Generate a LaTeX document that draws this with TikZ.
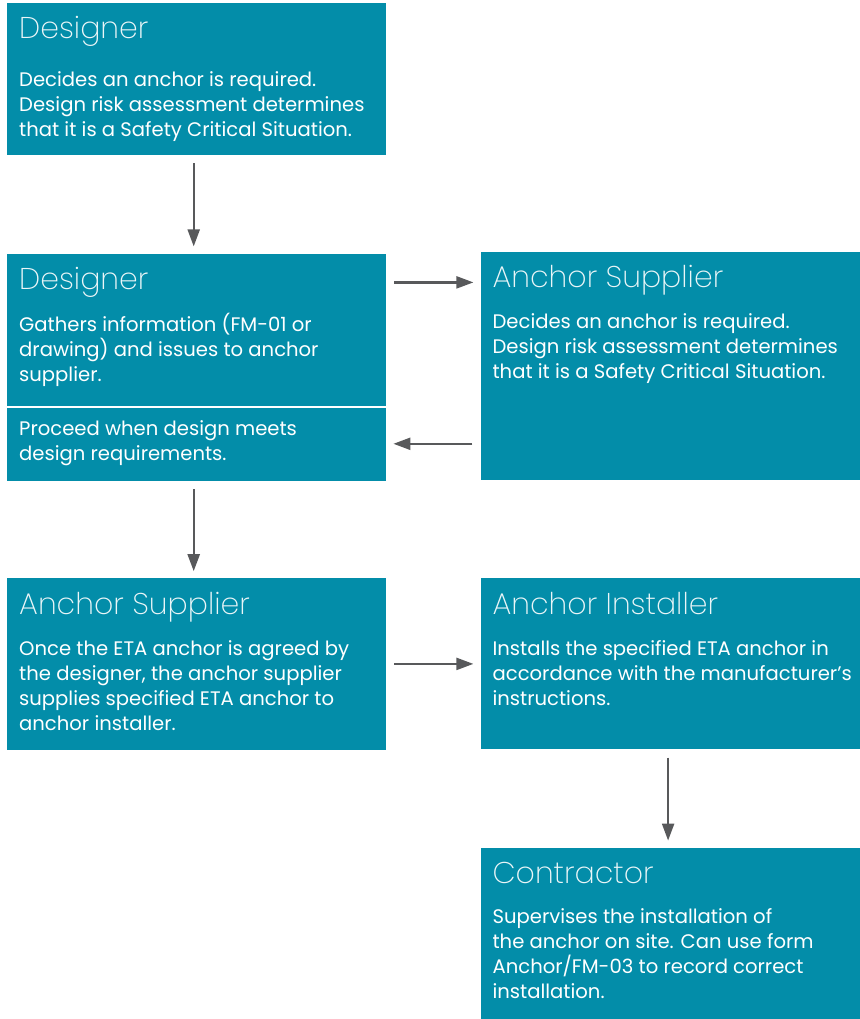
\documentclass[tikz,border=0pt]{standalone}
\usepackage{fontspec}
\setmainfont{Poppins}
\newfontfamily\titlefont{Poppins ExtraLight}
\usetikzlibrary{arrows.meta,positioning}
\definecolor{stepcol}{HTML}{038DA9}
\definecolor{arrcol}{HTML}{58595B}

\begin{document}
\begin{tikzpicture}[
  box/.style={fill=stepcol, minimum width=379pt, inner sep=0pt, anchor=north west},
  ttl/.style={anchor=base west, inner sep=0pt, text=white!92!stepcol,
              font=\titlefont\fontsize{30}{36}\selectfont},
  body/.style={anchor=north west, inner sep=0pt, text=white, align=left,
               font=\fontsize{19.6}{25}\selectfont,
               execute at begin node={\rule{0pt}{20pt}}},
  arr/.style={-{Triangle[length=17pt, width=12pt]}, line width=2.2pt, draw=arrcol,
              shorten <=8pt, shorten >=7pt}]
  \useasboundingbox (0,0) rectangle (859pt,-1019pt);
  % boxes
  \node[box, minimum height=152pt] (dsg1) at (7pt,-3pt) {};
  \node[box, minimum height=152pt, below=98pt of dsg1] (dsg2) {};
  \node[box, minimum height=73pt, below=2pt of dsg2] (prc) {};
  \node[box, minimum height=228pt, right=94pt of dsg2.north east, anchor=north west, yshift=2pt] (sup1) {};
  \node[box, minimum height=172pt, below=97pt of prc] (sup2) {};
  \node[box, minimum height=171pt, right=94pt of sup2.north east, anchor=north west] (ins) {};
  \node[box, minimum height=171pt, below=98pt of ins] (con) {};
  % titles
  \node[ttl] (dsg1-t) at ([shift={(12pt,-36pt)}]dsg1.north west) {Designer};
  \node[ttl] (dsg2-t) at ([shift={(12pt,-36pt)}]dsg2.north west) {Designer};
  \node[ttl] (sup1-t) at ([shift={(12pt,-36pt)}]sup1.north west) {Anchor Supplier};
  \node[ttl] (sup2-t) at ([shift={(12pt,-36pt)}]sup2.north west) {Anchor Supplier};
  \node[ttl] (ins-t) at ([shift={(12pt,-36pt)}]ins.north west) {Anchor Installer};
  \node[ttl] (con-t) at ([shift={(12pt,-36pt)}]con.north west) {Contractor};
  % texts
  \node[body] (dsg1-b) at ([shift={(12pt,-68pt)}]dsg1.north west)
    {Decides an anchor is required.\\Design risk assessment determines\\that it is a Safety Critical Situation.};
  \node[body] (dsg2-b) at ([shift={(12pt,-60pt)}]dsg2.north west)
    {Gathers information (FM-01 or\\drawing) and issues to anchor\\supplier.};
  \node[body] (prc-b) at ([shift={(12pt,-13pt)}]prc.north west)
    {Proceed when design meets\\design requirements.};
  \node[body] (sup1-b) at ([shift={(12pt,-62pt)}]sup1.north west)
    {Decides an anchor is required.\\Design risk assessment determines\\that it is a Safety Critical Situation.};
  \node[body] (sup2-b) at ([shift={(12pt,-62pt)}]sup2.north west)
    {Once the ETA anchor is agreed by\\the designer, the anchor supplier\\supplies specified ETA anchor to\\anchor installer.};
  \node[body] (ins-b) at ([shift={(12pt,-62pt)}]ins.north west)
    {Installs the specified ETA anchor in\\accordance with the manufacturer’s\\instructions.};
  \node[body] (con-b) at ([shift={(12pt,-61pt)}]con.north west)
    {Supervises the installation of\\the anchor on site. Can use form\\Anchor/FM-03 to record correct\\installation.};
  % arrows
  \draw[arr] ([xshift=-3pt]dsg1.south) -- ([xshift=-3pt]dsg2.north);
  \draw[arr] ([yshift=-29pt]dsg2.north east) -- ([yshift=-29pt]dsg2.north east -| sup1.west);
  \draw[arr] ([yshift=-36pt]prc.north east -| sup1.west) -- ([yshift=-36pt]prc.north east);
  \draw[arr] ([xshift=-3pt]prc.south) -- ([xshift=-3pt]sup2.north);
  \draw[arr] (sup2.east |- ins) -- (ins);
  \draw[arr] ([xshift=-2pt]ins.south) -- ([xshift=-2pt]con.north);
\end{tikzpicture}
\end{document}
